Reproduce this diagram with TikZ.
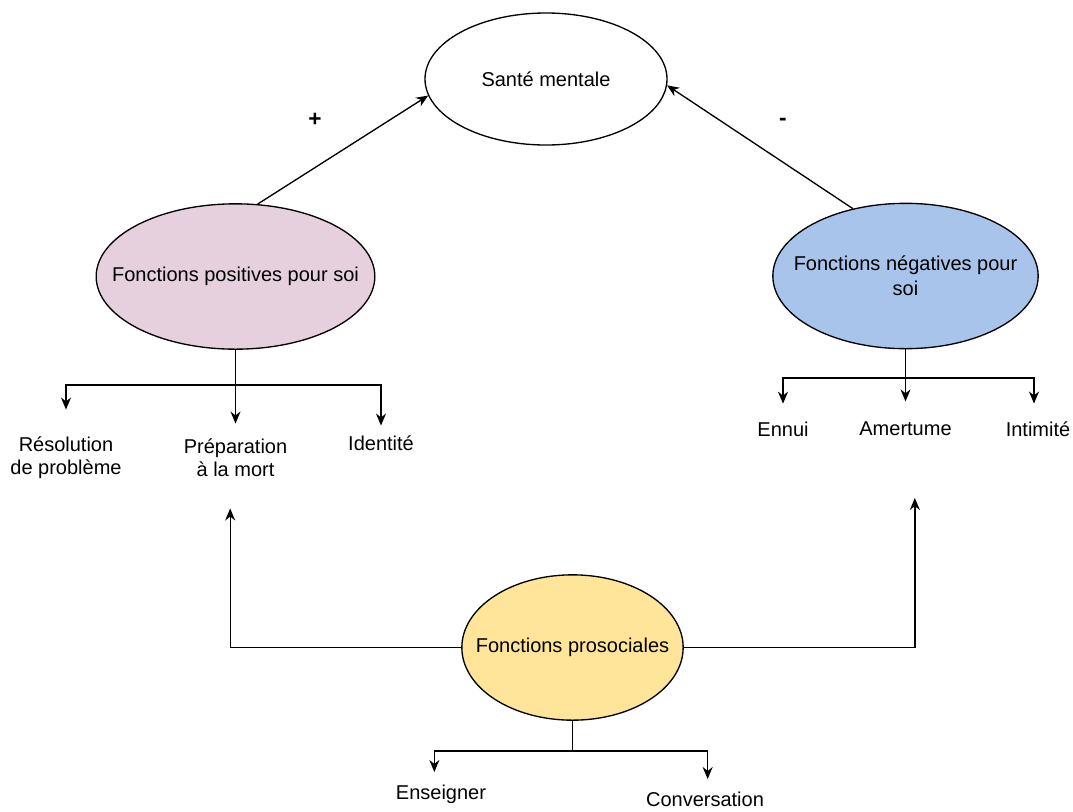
\documentclass[tikz,border=0pt]{standalone}
\usepackage{fontspec}
\setmainfont{Liberation Sans}
\usetikzlibrary{shapes.geometric,arrows.meta}
\definecolor{posfill}{HTML}{E6D0DE}
\definecolor{negfill}{HTML}{A9C4EB}
\definecolor{profill}{HTML}{FFE599}
\tikzset{
bulle/.style={ellipse, draw, inner sep=-50pt, align=center, font=\fontsize{15}{18.75}\selectfont},
etiq/.style={inner sep=0pt, align=center, font=\fontsize{15}{17.5}\selectfont},
signe/.style={inner sep=0pt, font=\fontsize{17}{20}\selectfont\bfseries},
fleche/.style={-{Stealth[length=9pt,width=7.5pt]}}}
\tikzset{every picture/.style={line width=1pt}}

\begin{document}
\begin{tikzpicture}[x=0.75pt,y=0.75pt,yscale=-1,xscale=1]
\useasboundingbox (0,0) rectangle (1073,811);

%Ellipses
\node[bulle, minimum width=181.5pt, minimum height=99pt] (sante) at (546,79) {Santé mentale};
\node[bulle, fill=posfill, minimum width=209pt, minimum height=109pt] (pos) at (235.5,276.5) {Fonctions positives pour soi};
\node[bulle, fill=negfill, minimum width=199pt, minimum height=109pt] (neg) at (905.5,276) {Fonctions négatives pour\\soi};
\node[bulle, fill=profill, minimum width=166pt, minimum height=109pt] (pro) at (572.5,647.5) {Fonctions prosociales};

%Signs
\node[signe] (plus) at (315,120) {+};
\node[signe] (moins) at (783,122) {-};

%Labels
\node[etiq] (res) at (66,458) {Résolution\\de problème};
\node[etiq] (prep) at (235.5,458) {Préparation\\à la mort};
\node[etiq] (ident) at (381,443) {Identité};
\node[etiq] (ennui) at (783,429) {Ennui};
\node[etiq] (amer) at (905.5,429) {Amertume};
\node[etiq] (intim) at (1038,429) {Intimité};
\node[etiq] (ens) at (441,794) {Enseigner};
\node[etiq] (conv) at (705,799) {Conversation};

\coordinate (posfourche) at (235.5,385);
\coordinate (negfourche) at (905.5,378);
\coordinate (profourche) at (572.5,751);

%To Santé mentale
\draw[fleche] (pos.73) -- (sante.188);
\draw[fleche] (neg.128) -- (sante.-3);

%Positive tree
\draw (pos.south) -- (posfourche);
\draw[fleche, shorten >=20pt] (posfourche) -| (res.north);
\draw[fleche, shorten >=11pt] (posfourche) -- (prep.north);
\draw[fleche, shorten >=7pt] (posfourche) -| (ident.north);

%Negative tree
\draw (neg.south) -- (negfourche);
\draw[fleche, shorten >=13pt] (negfourche) -| (ennui.north);
\draw[fleche, shorten >=15pt] (negfourche) -- (amer.north);
\draw[fleche, shorten >=13pt] (negfourche) -| ([xshift=-3pt]intim.north);

%Prosocial
\draw[fleche, shorten >=23pt] (pro.west) -| ([xshift=-4pt]prep.south);
\draw[fleche, shorten >=46pt] (pro.east) -| ([xshift=7pt]amer.south);
\draw (pro.south) -- (profourche);
\draw[fleche, shorten >=9pt] (profourche) -| ([xshift=-5pt]ens.north);
\draw[fleche, shorten >=9pt] (profourche) -| ([xshift=2pt]conv.north);

\end{tikzpicture}
\end{document}
